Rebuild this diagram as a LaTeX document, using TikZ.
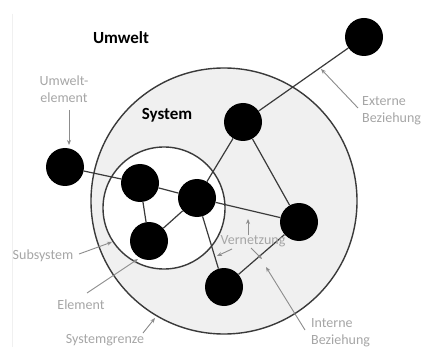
\documentclass[tikz,border=0pt]{standalone}
\usepackage{fontspec}
\setmainfont{Carlito}
\usetikzlibrary{arrows.meta}

\definecolor{ringgray}{HTML}{F0F0F0}
\definecolor{linegray}{HTML}{3A3A3A}
\definecolor{textgray}{HTML}{A6A6A6}
\definecolor{pointgray}{HTML}{8C8C8C}

\tikzset{
    element/.style={circle, fill=black, minimum size=38pt, inner sep=0pt},
    relation/.style={linegray, line width=1.2pt},
    lbl/.style={textgray, font=\fontsize{14}{17}\selectfont, inner sep=1pt},
    title/.style={black, font=\fontsize{17}{20}\selectfont\bfseries, inner sep=0pt},
    pointer/.style={pointgray, line width=0.9pt, -{Stealth[length=5pt,width=4pt]}}
}

\begin{document}
\begin{tikzpicture}[x=1pt, y=-1pt]
    % Page frame (422 x 347)
    \useasboundingbox[fill=white] (0,0) rectangle (422,347);
    \draw[gray!12, line width=0.8pt] (12,14) -- (12,347);

    % System and subsystem boundaries
    \draw[linegray, line width=1.4pt, fill=ringgray] (224,201) circle (133);
    \draw[linegray, line width=1.4pt, fill=white] (164,208) circle (61);

    % Elements
    \node[element] (ue)   at (65,167) {};
    \node[element] (ext)  at (364,37) {};
    \node[element] (top)  at (243,122) {};
    \node[element] (sa)   at (140,183) {};
    \node[element] (sb)   at (197,198) {};
    \node[element] (sc)   at (149,241) {};
    \node[element] (rgt)  at (299,222) {};
    \node[element] (bot)  at (224,287) {};

    % Relations
    \draw[relation] (ue) -- (sa);
    \draw[relation] (sa) -- (sb);
    \draw[relation] (sa) -- (sc);
    \draw[relation] (sc) -- (sb);
    \draw[relation] (sb) -- (top);
    \draw[relation] (sb) -- (rgt);
    \draw[relation] (sb) -- (bot);
    \draw[relation] (top) -- (rgt);
    \draw[relation] (top) -- (ext);
    \draw[relation] (rgt) -- (bot);

    % Titles
    \node[title] (umwelt) at (121,38) {Umwelt};
    \node[title] (system) at (167,115) {System};

    % Labels
    \node[lbl, align=center] (lblue)  at (64,89) {Umwelt-\\element};
    \node[lbl, align=left, anchor=west] (lblext) at (361,111) {Externe\\Beziehung};
    \node[lbl] (lblsub)  at (43,256) {Subsystem};
    \node[lbl] (lblel)   at (81,305) {Element};
    \node[lbl] (lblgr)   at (105,340) {Systemgrenze};
    \node[lbl, align=left, anchor=west] (lblint) at (310,333) {Interne\\Beziehung};
    \node[lbl] (lblnet)  at (253,241) {Vernetzung};

    % Pointer tips
    \coordinate (tipue)  at (69,145);
    \coordinate (tipext) at (321,69);
    \coordinate (tipsub) at (112,242);
    \coordinate (tipel)  at (138,259);
    \coordinate (tipgr)  at (155,318);
    \coordinate (tipint) at (266,267);
    \coordinate (tipnu)  at (248,219);
    \coordinate (tipnl)  at (217,256);
    \coordinate (tipnr)  at (262,259);

    % Pointers
    \draw[pointer] (69,110) -- (tipue);
    \draw[pointer] (358,108) -- (tipext);
    \draw[pointer] (79,254) -- (tipsub);
    \draw[pointer] (87,293) -- (tipel);
    \draw[pointer] (143,333) -- (tipgr);
    \draw[pointer] (305,330) -- (tipint);
    \draw[pointer] (248,235) -- (tipnu);
    \draw[pointer] (232,249) -- (tipnl);
    \draw[pointer] (251,248) -- (tipnr);
\end{tikzpicture}
\end{document}
